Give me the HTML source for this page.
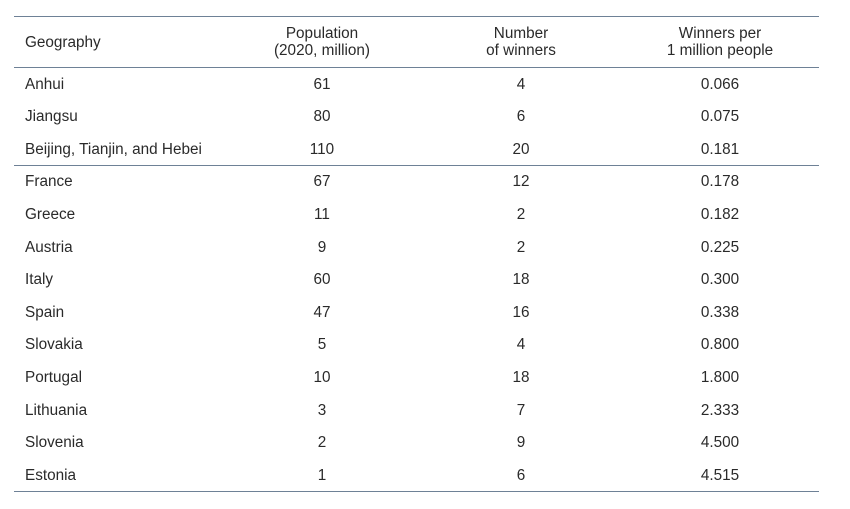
<!DOCTYPE html>
<html><head><style>
body{margin:0;background:#fff;width:850px;height:509px;position:relative;font-family:"Liberation Sans",sans-serif;color:#2a2a2a;font-size:15.3px}
.l{position:absolute;left:14px;width:805px;height:1.5px;background:#6e8196}
.t{position:absolute;line-height:17px;white-space:nowrap}
.c{transform:translateX(-50%);text-align:center}
</style></head><body>
<div class="l" style="top:15.5px"></div>
<div class="l" style="top:66.5px"></div>
<div class="l" style="top:164.5px"></div>
<div class="l" style="top:490.5px"></div>
<div class="t" style="left:25px;top:34px">Geography</div>
<div class="t c" style="left:322px;top:25px">Population<br>(2020, million)</div>
<div class="t c" style="left:521px;top:25px">Number<br>of winners</div>
<div class="t c" style="left:720px;top:25px">Winners per<br>1 million people</div>
<div id="rows"></div>
<script>
var d=[["Anhui",61,4,"0.066"],["Jiangsu",80,6,"0.075"],["Beijing, Tianjin, and Hebei",110,20,"0.181"],["France",67,12,"0.178"],["Greece",11,2,"0.182"],["Austria",9,2,"0.225"],["Italy",60,18,"0.300"],["Spain",47,16,"0.338"],["Slovakia",5,4,"0.800"],["Portugal",10,18,"1.800"],["Lithuania",3,7,"2.333"],["Slovenia",2,9,"4.500"],["Estonia",1,6,"4.515"]];
var h="";d.forEach(function(r,i){var y=75.5+i*32.6;
h+='<div class="t" style="left:25px;top:'+y+'px">'+r[0]+'</div><div class="t c" style="left:322px;top:'+y+'px">'+r[1]+'</div><div class="t c" style="left:521px;top:'+y+'px">'+r[2]+'</div><div class="t c" style="left:720px;top:'+y+'px">'+r[3]+'</div>';});
document.getElementById("rows").innerHTML=h;
</script>
</body></html>
